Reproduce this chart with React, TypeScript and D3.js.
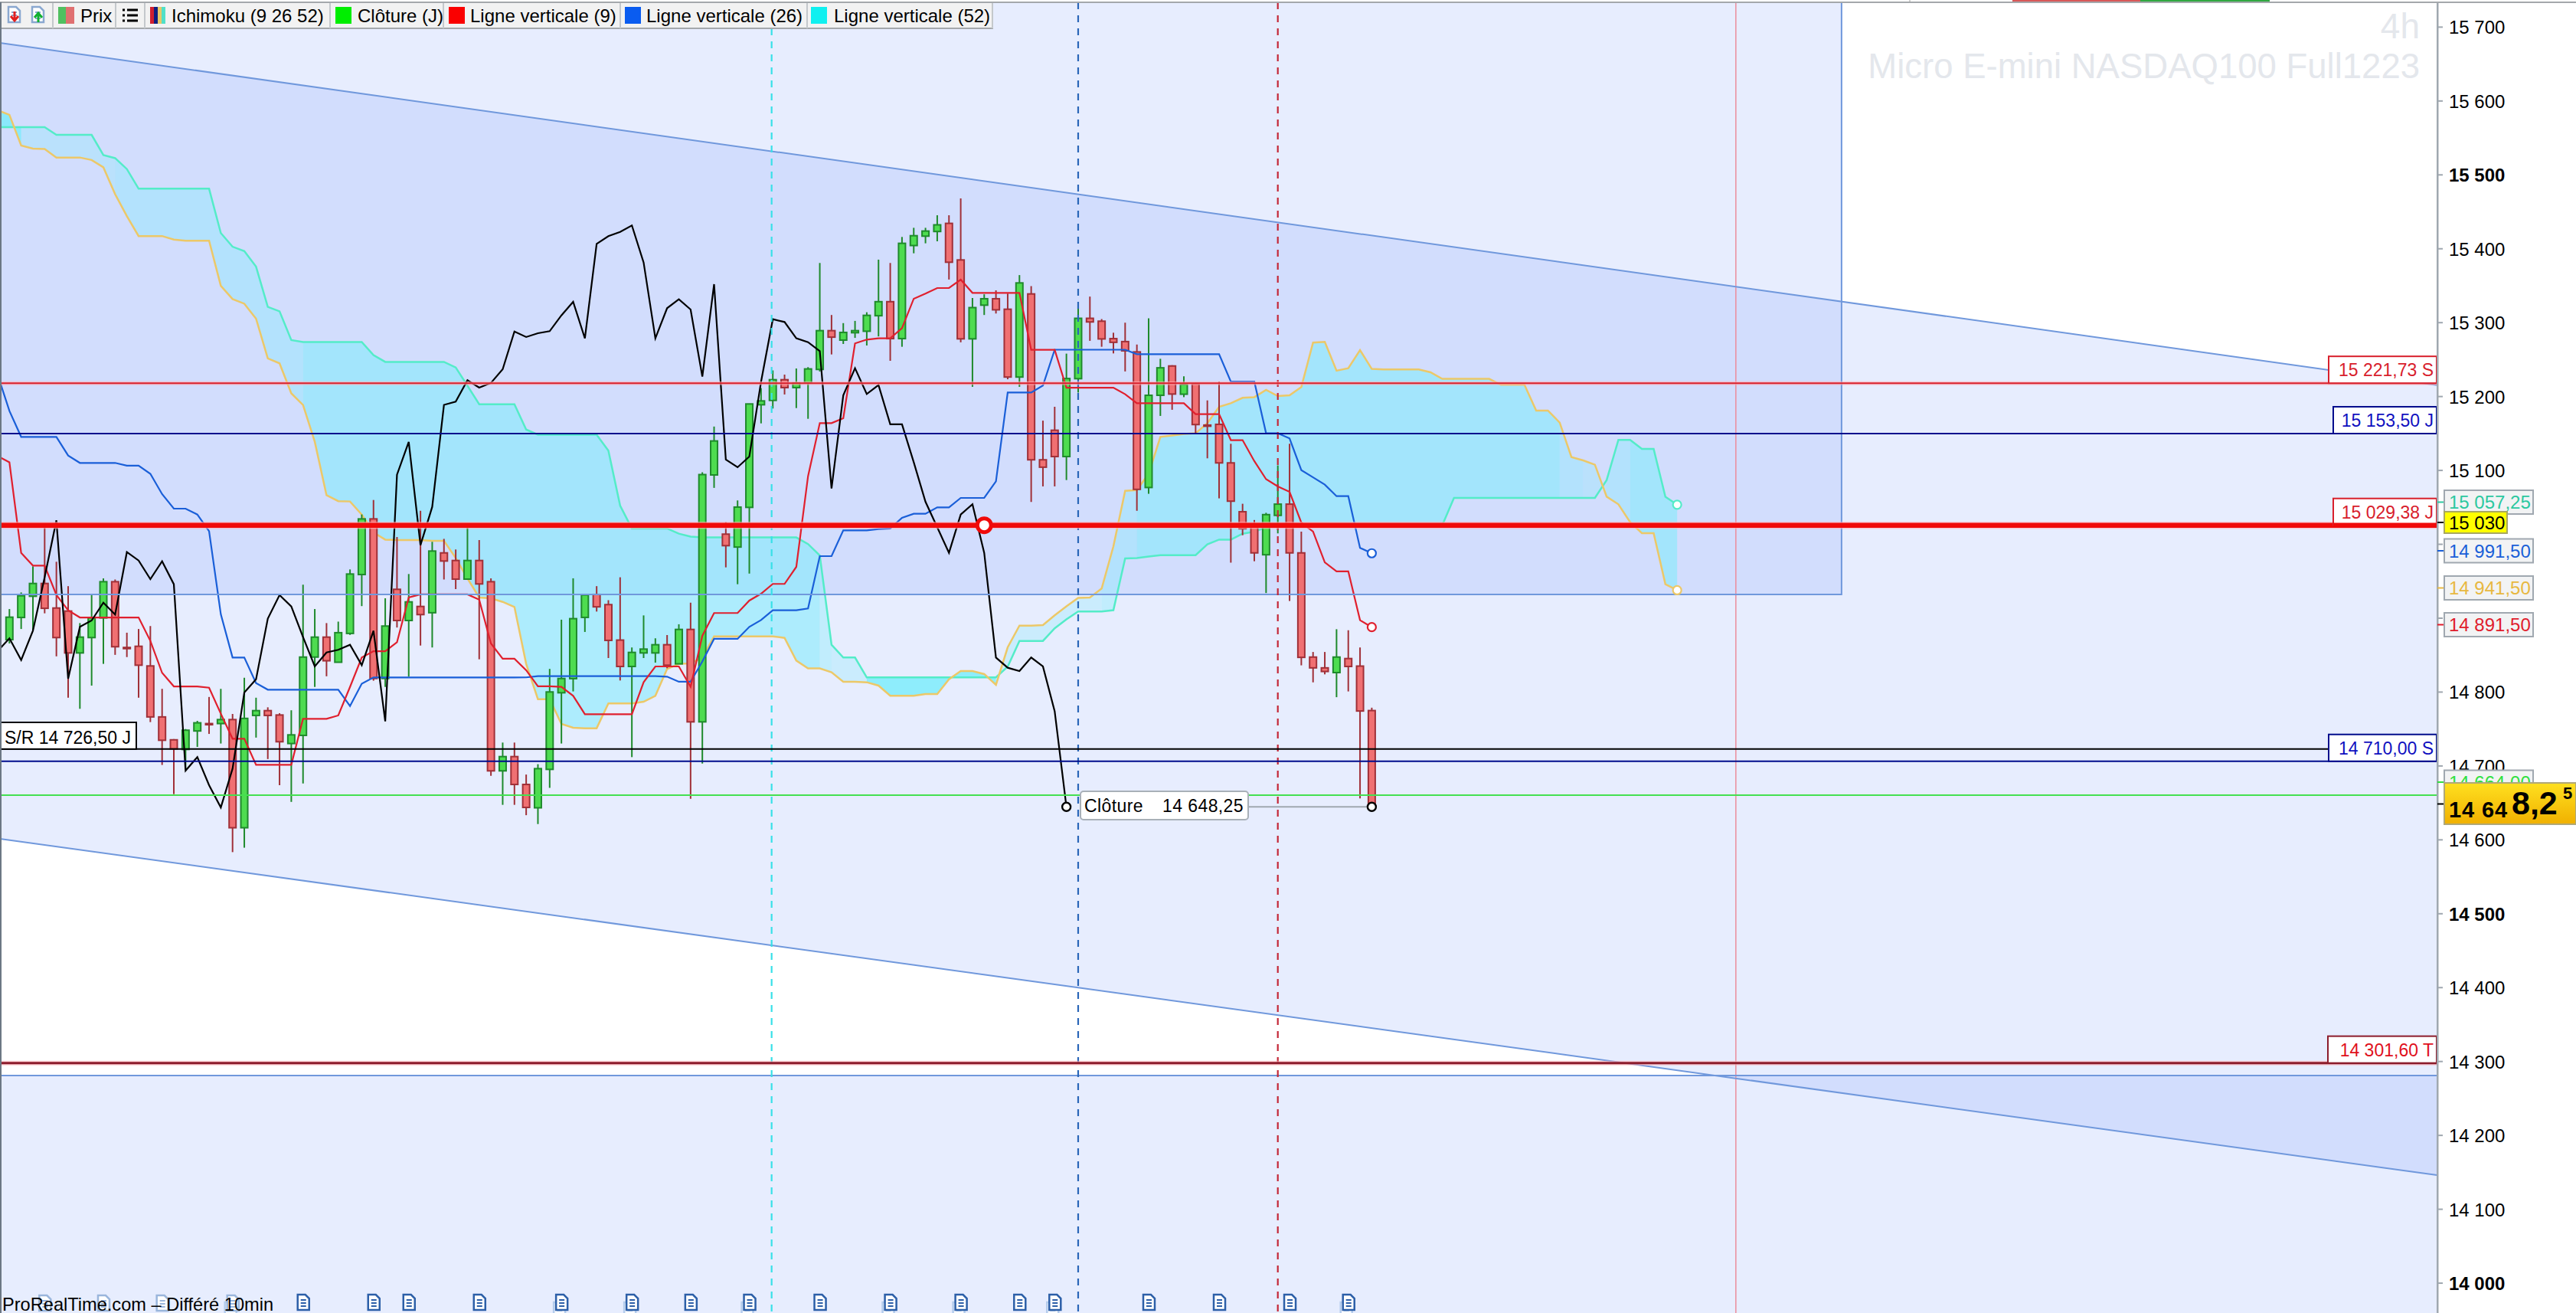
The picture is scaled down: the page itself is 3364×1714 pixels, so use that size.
import React from "react";
import * as d3 from "d3";

const WIDTH = 3364;
const HEIGHT = 1714;
const FONT = "'Liberation Sans', Arial, sans-serif";

// OHLC, one entry per 4h bar
const opens = [
  14874.6, 14904.6, 14933.3, 14950.6, 14917.4, 14913.3, 14856.6, 14877.4, 14904, 14953,
  14864, 14865.6, 14839, 14770, 14739, 14726, 14751, 14761, 14761, 14766.4,
  14620, 14772, 14778.5, 14772.6, 14734, 14745, 14851, 14878, 14844, 14883,
  14962.7, 15038, 14822, 14942.7, 14900.5, 14919.5, 14911, 14992, 14981.7, 14956.5,
  14981.7, 14953, 14697, 14716.3, 14678.6, 14647, 14699, 14802.7, 14821.8, 14904.7,
  14935.8, 14922, 14874, 14838.3, 14856.6, 14856.6, 14867.7, 14841.8, 14888.4, 14763.3,
  15097.5, 15017.4, 14999.9, 15053.6, 15192.5, 15198.4, 15226.4, 15215.7, 15222, 15240.3,
  15292.8, 15280, 15290, 15292, 15313, 15332, 15282, 15408, 15420.7, 15427,
  15438, 15388.5, 15281.7, 15327.3, 15336, 15321.8, 15230, 15342.5, 15118, 15158,
  15122.4, 15227.8, 15309.5, 15305.6, 15282, 15278, 15264, 15080.5, 15205.3, 15245,
  15206.8, 15221, 15165, 15166, 15113.8, 15047.7, 15028, 14989.5, 15042.8, 15058,
  14992, 14851, 14836.4, 14830, 14849, 14838.8, 14778.6,
];
const highs = [
  14916, 14938.5, 14973.8, 15026.6, 14980, 14947, 14897, 14935, 14957.5, 14956,
  14884, 14889, 14893, 14808, 14740, 14753.6, 14764.7, 14797, 14808, 14774,
  14823, 14796, 14783, 14775, 14779, 14949, 14916, 14897, 14899, 14969.6,
  15044, 15063.6, 14930.6, 15013.5, 14963.4, 15049, 15007, 15011, 14996.6, 15026.6,
  15009.4, 14957.5, 14735.3, 14735.3, 14692, 14706, 14835, 14901.6, 14957.6, 14936.8,
  14947, 14928, 14959, 14864, 14907.4, 14876.4, 14880.8, 14895.4, 14924.7, 15101,
  15163, 15033.6, 15063, 15194, 15215, 15239, 15233.3, 15241.6, 15243.4, 15384.4,
  15314, 15303, 15306, 15317.7, 15388.9, 15384.4, 15419.6, 15432, 15432, 15449,
  15449, 15471.8, 15337, 15342, 15347.4, 15343, 15368, 15353, 15171, 15189.8,
  15261.7, 15326.6, 15338.9, 15308.5, 15290, 15303.6, 15274, 15309.5, 15254.7, 15246,
  15231, 15222, 15198.4, 15223.9, 15139.7, 15058.5, 15036.5, 15046.3, 15110.4, 15139.7,
  15020.8, 14857.9, 14857.9, 14888.7, 14887.3, 14864, 14782.5,
];
const lows = [
  14869.4, 14889, 14886.7, 14910.2, 14852, 14796, 14781, 14812.4, 14841.8, 14854,
  14851, 14796, 14763, 14705, 14665.5, 14700, 14729.4, 14747, 14734, 14587,
  14593, 14742, 14713, 14677.6, 14655, 14680, 14810.6, 14825, 14843.5, 14881,
  14920, 14819, 14810.6, 14891, 14824.5, 14866.6, 14864, 14956, 14943, 14956.5,
  14848, 14690.4, 14651, 14651, 14637, 14625, 14674, 14734, 14804.5, 14885,
  14912.6, 14849.7, 14819.3, 14715.6, 14849.7, 14843.5, 14835.9, 14841.8, 14659.3, 14707,
  15080, 14972.4, 14949.6, 14964, 15167.3, 15187.4, 15206.4, 15188, 15173.5, 15237.5,
  15260.6, 15274.8, 15283, 15272.7, 15285, 15252, 15271, 15397.5, 15411, 15413.7,
  15362, 15277, 15216.8, 15314, 15316, 15227, 15216.8, 15061, 15082, 15082,
  15090.6, 15209, 15279, 15271, 15262, 15237.6, 15049, 15072, 15177.4, 15185.7,
  15202.8, 15154, 15120, 15065.8, 14978.8, 15015.9, 14980.7, 14937.7, 15018.4, 14926.9,
  14839.8, 14816.8, 14827.6, 14796.7, 14804.5, 14659.7, 14648.25,
];
const closes = [
  14905, 14934, 14950.6, 14917, 14877.4, 14856.6, 14878, 14904, 14953, 14865,
  14863.5, 14840, 14770, 14738.4, 14726.7, 14752, 14762, 14760, 14766.4, 14620,
  14768, 14778.5, 14772, 14736.4, 14745.7, 14851, 14878, 14846, 14884, 14963.4,
  15038, 14822, 14893, 14900.5, 14925.7, 14908.5, 14994.5, 14981, 14956.5, 14981.7,
  14950, 14697, 14716.3, 14678.6, 14647.5, 14700, 14803.8, 14822, 14903, 14935,
  14919, 14873.6, 14838.3, 14857.3, 14861.8, 14867.7, 14840, 14888.4, 14763.3, 15098,
  15143.5, 15001.8, 15054, 15193.6, 15197.7, 15226.4, 15215.7, 15222, 15241, 15292.8,
  15284, 15290.4, 15292.8, 15313.5, 15332, 15282, 15411, 15421.3, 15427.6, 15436,
  15385.4, 15281.7, 15324, 15336, 15321, 15230, 15357.4, 15118, 15108, 15122.4,
  15228, 15309.5, 15304.6, 15281.6, 15277, 15265.5, 15078, 15205.3, 15242.5, 15207,
  15220, 15165.7, 15164, 15113.8, 15062, 15024.7, 14992, 15043.8, 15058, 14992,
  14850.6, 14836.4, 14831.5, 14851, 14838.3, 14778, 14648.25,
];

// Ichimoku lines, first value sits one bar left of bar 0
const tenkan = [
  15123, 15114.6, 14992, 14974.8, 14974.8, 14935, 14914.3, 14904.6, 14904.6, 14904.6,
  14904.6, 14904.6, 14904.6, 14872.9, 14829.7, 14811.3, 14811.3, 14811.3, 14809.6, 14774.4,
  14740.5, 14740.5, 14705.2, 14705.2, 14705.2, 14705.2, 14767.5, 14767.5, 14767.5, 14772,
  14810.6, 14850.4, 14859, 14859, 14871, 14931.6, 14935.8, 14935.8, 14935.8, 14935.8,
  14935.8, 14928.8, 14869.4, 14848.7, 14848.7, 14833.2, 14811.4, 14811.4, 14810.7, 14798.6,
  14773.7, 14773.7, 14773.7, 14773.7, 14773.7, 14816.9, 14838.3, 14838.3, 14838.3, 14810.7,
  14879.8, 14910.6, 14910.6, 14910.6, 14927.5, 14936.8, 14950, 14950, 14973.1, 15095.8,
  15167.7, 15167.7, 15174.2, 15275.5, 15280.7, 15282.4, 15282.4, 15296.2, 15336, 15342.9,
  15350.5, 15350.5, 15361.9, 15343.9, 15343.9, 15343.9, 15343.9, 15343.9, 15266.9, 15266.9,
  15266.9, 15215.6, 15215.6, 15215.6, 15215.6, 15215.6, 15206.8, 15194.5, 15194.5, 15194.5,
  15194.5, 15194.5, 15179.8, 15179.8, 15179.8, 15144.6, 15144.6, 15116.2, 15091.8, 15082,
  15074.6, 15033, 15020.8, 14979.2, 14967, 14967, 14900.9, 14891.5,
];
const kijun = [
  15233, 15184.2, 15149, 15149, 15149, 15149, 15123.8, 15113.8, 15113.8, 15113.8,
  15113.8, 15110, 15110, 15099, 15071.6, 15051.9, 15051.9, 15043.9, 15021.5, 14909,
  14850.4, 14850.4, 14815.9, 14806.9, 14806.9, 14806.9, 14806.9, 14806.9, 14806.9, 14806.9,
  14784.7, 14815, 14823.4, 14823.4, 14823.4, 14823.4, 14823.4, 14823.4, 14823.4, 14823.4,
  14823.4, 14823.4, 14823.4, 14823.4, 14823.4, 14823.5, 14825.2, 14825.2, 14825.2, 14825.2,
  14825.2, 14825.2, 14825.2, 14825.2, 14825.2, 14825.2, 14825.2, 14824.5, 14817.6, 14817.6,
  14845, 14875.7, 14875.7, 14875.7, 14891.9, 14901.2, 14914.4, 14914.4, 14914.4, 14916.8,
  14987.6, 14987.6, 15022.5, 15022.5, 15022.5, 15024.3, 15025, 15039.5, 15045, 15045,
  15053.6, 15053.6, 15066.4, 15066.4, 15066.4, 15088.9, 15209, 15209, 15209, 15218.5,
  15267, 15267, 15267, 15267, 15267, 15267, 15267, 15261, 15261, 15261,
  15261, 15261, 15261, 15261, 15261, 15223.9, 15223.9, 15223.9, 15153.9, 15153.9,
  15147, 15104, 15094.2, 15084.4, 15068.8, 15068.8, 14998.8, 14991.5,
];
const chikou = [
  14859, 14876.3, 14847, 14886.7, 14959, 15036, 14821.7, 14891.9, 14900.5, 14924.7,
  14908.5, 14993.1, 14981.7, 14956.5, 14980.7, 14949.6, 14697.3, 14715.6, 14677.6, 14647.5,
  14700, 14803, 14821, 14903, 14935, 14919.5, 14878, 14838.3, 14857.3, 14860.8,
  14867.7, 14840, 14886.7, 14764, 15097.9, 15142.3, 15002.5, 15054.3, 15192.3, 15196.8,
  15225.7, 15215.7, 15222, 15240.5, 15291.6, 15284.2, 15289.3, 15292.1, 15313.5, 15331.8,
  15282.4, 15410.3, 15420.7, 15426.5, 15435.2, 15385, 15282.4, 15323.2, 15335.3, 15321.5,
  15230.6, 15355.7, 15118.3, 15107.9, 15122.4, 15223.7, 15308.3, 15304.5, 15282.4, 15277.2,
  15265.1, 15079.2, 15205.3, 15242, 15207, 15219.2, 15166, 15166, 15114.8, 15061.2,
  15026.7, 14992.1, 15044, 15057.8, 14992.1, 14850.4, 14836.6, 14832.1, 14850.4, 14838.3,
  14777.8, 14648.25,
];
const senkouA = [
  15591.1, 15584.9, 15543.4, 15539.3, 15538.6, 15527.1, 15527.1, 15527.1, 15523.8, 15513.8,
  15477.5, 15447.8, 15420.8, 15420.8, 15420.8, 15416, 15414.5, 15414.5, 15414.5, 15353.4,
  15335.6, 15329.3, 15309, 15255.3, 15248.6, 15207.9, 15192.3, 15142.4, 15070.1, 15062,
  15061.6, 15043.9, 15019.7, 15010, 15009.4, 15009.4, 15009.4, 15008.3, 15008.3, 14985.2,
  14957.5, 14931.6, 14930.6, 14925.7, 14918.8, 14841.8, 14794, 14794, 14760.6, 14755.4,
  14754.7, 14754.7, 14788.2, 14788.2, 14788.2, 14790.6, 14798.6, 14834.9, 14841.8, 14842.5,
  14850.4, 14879.1, 14879.1, 14879.1, 14879.1, 14879.1, 14879.1, 14877, 14846.3, 14835.6,
  14835.6, 14830.4, 14817.6, 14817.6, 14816.9, 14812.4, 14798.6, 14798.6, 14798.6, 14801,
  14801, 14821, 14832.1, 14832.1, 14828, 14813.5, 14864.2, 14893.6, 14893.6, 14894.3,
  14907.5, 14919.6, 14931, 14931.6, 14943.7, 15000.8, 15076.1, 15077, 15099.1, 15149,
  15151, 15152.9, 15153.9, 15167.6, 15189.6, 15194.5, 15201.9, 15202.8, 15212.6, 15204.3,
  15205.3, 15216.5, 15276.7, 15277.7, 15238.6, 15242, 15266.5, 15241, 15240.2, 15240.2,
  15240.2, 15240.2, 15236.4, 15227.5, 15227.5, 15227.5, 15227.5, 15227.5, 15219.5, 15219.5,
  15219.5, 15184.6, 15184.6, 15168.4, 15121.7, 15117.2, 15111.3, 15068.1, 15057.8, 15033.6,
  15018.7, 15018.7, 14949.6, 14941.5,
];
const senkouB = [
  15568.2, 15568.2, 15568.2, 15568.2, 15568.2, 15557.8, 15557.8, 15557.8, 15557.8, 15530.4,
  15526.3, 15511.5, 15484.9, 15484.9, 15484.9, 15484.9, 15484.9, 15484.9, 15484.9, 15424.9,
  15406.4, 15400.4, 15379.4, 15324.9, 15319, 15280.1, 15277.5, 15277.5, 15277.5, 15277.5,
  15277.5, 15277.5, 15259.7, 15250.5, 15250.5, 15250.5, 15250.5, 15250.5, 15250.5, 15243,
  15218.3, 15193.1, 15193.1, 15193.1, 15193.1, 15159, 15152, 15152, 15152, 15152,
  15152, 15152, 15130.3, 15056, 15025, 15025, 15025, 15025, 15018, 15014,
  15012.9, 15012.9, 15012.9, 15012.9, 15012.9, 15012.9, 15012.9, 15012.9, 15012.9, 15004,
  14988.6, 14867.7, 14850.4, 14850.4, 14823.5, 14823.5, 14823.5, 14823.5, 14823.5, 14823.5,
  14823.5, 14823.5, 14823.5, 14823.5, 14823.5, 14823.5, 14838, 14872.9, 14872.9, 14872.9,
  14890, 14902, 14912.6, 14912.6, 14912.6, 14914.4, 14984.5, 14985, 14987, 14989,
  14989, 14989, 14989, 15003.7, 15010, 15010, 15018, 15020.8, 15026.7, 15029.4,
  15029.4, 15029.4, 15029.4, 15029.4, 15029.4, 15029.4, 15029.4, 15029.4, 15029.4, 15029.4,
  15029.4, 15029.4, 15029.4, 15029.4, 15066.4, 15066.4, 15066.4, 15066.4, 15066.4, 15066.4,
  15066.4, 15066.4, 15066.4, 15066.4, 15066.4, 15066.4, 15066.4, 15090.6, 15145, 15145,
  15132.8, 15132.8, 15068, 15057.25,
];
// bars where the cloud is drawn brighter
const brightCloudBars = [-1, 0, 73, 74, 75, 76, 77, 78, 79, 80, 81, 82, 83];

const priceTicks = [15700, 15600, 15500, 15400, 15300, 15200, 15100, 15000, 14900, 14800, 14700, 14600, 14500, 14400, 14300, 14200, 14100, 14000];
const boldTicks = [15500, 15000, 14500, 14000];

// drawn objects: channel lines [bar, price], zones, horizontal levels
const channelUpper: [number, number][] = [[-0.8, 15682.3], [206.7, 15219]];
const channelLower: [number, number][] = [[-0.8, 14605], [206.7, 14149.8]];
const zoneTop = { lastBar: 156, bottom: 14935.7 };
const zoneBottomTop = 14284.6;

const levels = [
  { value: 15221.73, suffix: "S", color: "#d8202c", halo: "#ffb0b8", width: 2, boxX: 3041 },
  { value: 15153.5, suffix: "J", color: "#000c8c", halo: "", width: 2, boxX: 3047 },
  { value: 15029.38, suffix: "J", color: "#f00a0a", halo: "#ffb0b8", width: 6.5, boxX: 3047 },
  { value: 14710, suffix: "S", color: "#000c8c", halo: "", width: 2, boxX: 3041 },
  { value: 14301.6, suffix: "T", color: "#8c1c2c", halo: "#ffb0b8", width: 3, boxX: 3040 },
];
const srLevel = { value: 14726.5, label: "S/R 14 726,50 J" };
const closeLevel = 14664;

const verticals = [
  { bar: 64.9, color: "#38e0e8" },
  { bar: 91, color: "#2a66b8" },
  { bar: 108, color: "#c42838" },
];
const pinkBar = 147;

const sideLabels = [
  { value: 15057.25, color: "#2cc8a0", y: 655.5 },
  { value: 14991.5, color: "#1a5fd8", y: 719 },
  { value: 14941.5, color: "#e8b840", y: 767.5 },
  { value: 14891.5, color: "#e01c2c", y: 815.5 },
  { value: 14664, color: "#30e040", y: 1021 },
];

const legendItems = [
  { label: "Ichimoku (9 26 52)", x: 224, swatch: 196 },
  { label: "Clôture (J)", x: 467, swatch: 438, color: "#00ee00" },
  { label: "Ligne verticale (9)", x: 614, swatch: 586, color: "#fa0000" },
  { label: "Ligne verticale (26)", x: 844, swatch: 816, color: "#0a5cf0" },
  { label: "Ligne verticale (52)", x: 1089, swatch: 1059, color: "#10f0f0" },
];
const legendSeparators = [69, 151, 189, 431, 579, 810, 1054, 1296];

const eventBars = [3, 8, 13, 19, 25, 31, 34, 40, 47, 53, 58, 63, 69, 75, 81, 86, 89, 97, 103, 109, 114];
const doubledEvents = [19, 47, 53, 63, 75, 81, 89, 114];
const fadedEvents = [3, 8, 13, 19];

const x = d3.scaleLinear().domain([0, 116]).range([12.3, 1791.4]);
const y = d3.scaleLinear().domain([15029.38, 14648.25]).range([685.7, 1053.3]);
const PLOT_RIGHT = 3183;
const AXIS_SHIFT = -3.5;

const frPrice = (v: number, digits = 2) => {
  const [whole, dec] = v.toFixed(digits).split(".");
  return `${whole.slice(0, -3)} ${whole.slice(-3)}${dec ? "," + dec : ""}`;
};

const polyline = d3
  .line<number>()
  .x((_, k) => x(k - 1))
  .y((d) => y(d));

// cloud shade of the segment starting at index k of the senkou arrays
const cloudAlpha = (k: number) => {
  if (brightCloudBars.includes(k - 1)) return 0.8;
  const gap = (Math.abs(senkouA[k] - senkouB[k]) + Math.abs(senkouA[k + 1] - senkouB[k + 1])) / 2;
  if (gap < 50) return 0.26;
  if (gap < 100) return 0.34;
  return 0.52;
};

// contiguous segments with one shade become one path, so no seams show between bars
const cloudRuns = () => {
  const runs: { from: number; to: number; alpha: number }[] = [];
  for (let k = 0; k < senkouA.length - 1; k++) {
    const alpha = cloudAlpha(k);
    const last = runs[runs.length - 1];
    if (last && last.alpha === alpha) last.to = k + 1;
    else runs.push({ from: k, to: k + 1, alpha });
  }
  return runs;
};

const cloudArea = d3
  .area<number>()
  .x((k) => x(k - 1))
  .y0((k) => y(senkouB[k]))
  .y1((k) => y(senkouA[k]));

const DocIcon = ({ cx, top, color, op = 1 }: { cx: number; top: number; color: string; op?: number }) => (
  <g opacity={op}>
    <path
      d={`M${cx - 7},${top}h10l5,5v15h-15z`}
      fill="#fff"
      stroke={color}
      strokeWidth={2.5}
    />
    <path d={`M${cx - 3},${top + 7}h7M${cx - 3},${top + 11}h7M${cx - 3},${top + 15}h7`} stroke={color} strokeWidth={1.8} />
  </g>
);

export default function App() {
  const upperAt = channelUpper.map(([b, p]) => [x(b), y(p)]);
  const lowerAt = channelLower.map(([b, p]) => [x(b), y(p)]);
  const zoneFill = "rgba(72,122,248,0.135)";
  const zoneStroke = "#7098dc";

  const lastSsaX = x(142);

  return (
    <svg
      width={WIDTH}
      height={HEIGHT}
      viewBox={`0 0 ${WIDTH} ${HEIGHT}`}
      style={{ position: "absolute", left: 0, top: 0, display: "block", background: "#fff", fontFamily: FONT }}
    >
      <defs>
        <clipPath id="plot">
          <rect x={0} y={3} width={PLOT_RIGHT} height={HEIGHT - 3} />
        </clipPath>
        <linearGradient id="goldBox" x1="0" x2="0" y1="0" y2="1">
          <stop offset="0" stopColor="#ffe020" />
          <stop offset="1" stopColor="#f0b000" />
        </linearGradient>
      </defs>

      <g clipPath="url(#plot)">
        {/* zones */}
        <rect x={0} y={3} width={x(zoneTop.lastBar)} height={y(zoneTop.bottom) - 3} fill={zoneFill} />
        <path
          d={`M${upperAt[0]}L${upperAt[1]}L${lowerAt[1]}L${lowerAt[0]}Z`}
          fill={zoneFill}
        />
        <rect x={0} y={y(zoneBottomTop)} width={PLOT_RIGHT} height={HEIGHT - y(zoneBottomTop)} fill={zoneFill} />

        <line x1={x(pinkBar)} x2={x(pinkBar)} y1={3} y2={HEIGHT} stroke="#ec8c9c" strokeWidth={1.5} />

        {/* kumo */}
        {cloudRuns().map((r) => (
          <path
            key={r.from}
            d={cloudArea(d3.range(r.from, r.to + 1)) ?? ""}
            fill="#78ecfb"
            fillOpacity={r.alpha}
            stroke="none"
          />
        ))}
        <path d={polyline(senkouB) ?? ""} fill="none" stroke="#54ecc8" strokeWidth={2.5} />
        <path d={polyline(senkouA) ?? ""} fill="none" stroke="#ecc868" strokeWidth={2.5} />

        {/* candles */}
        {opens.map((o, i) => {
          const c = closes[i];
          const up = c >= o;
          const stroke = up ? "#1f8a2c" : "#a03038";
          const fill = up ? "#4edc50" : "#f07072";
          const top = y(Math.max(o, c));
          const bot = y(Math.min(o, c));
          return (
            <g key={i}>
              <line x1={x(i)} x2={x(i)} y1={y(highs[i])} y2={y(lows[i])} stroke={stroke} strokeWidth={2} />
              <rect x={x(i) - 4.5} y={top} width={9} height={Math.max(bot - top, 1.5)} fill={fill} stroke={stroke} strokeWidth={2} />
            </g>
          );
        })}

        {/* ichimoku lines */}
        <path d={polyline(kijun) ?? ""} fill="none" stroke="#1a5fd8" strokeWidth={2.2} />
        <path d={polyline(tenkan) ?? ""} fill="none" stroke="#e0202e" strokeWidth={2.2} />
        <path d={polyline(chikou) ?? ""} fill="none" stroke="#000" strokeWidth={2.2} />

        {/* zone outlines */}
        <path d={`M${upperAt[0]}L${upperAt[1]}`} stroke={zoneStroke} strokeWidth={2} fill="none" />
        <path d={`M${lowerAt[0]}L${lowerAt[1]}`} stroke={zoneStroke} strokeWidth={2} fill="none" />
        <path
          d={`M0,${y(zoneTop.bottom)}H${x(zoneTop.lastBar)}V3`}
          stroke={zoneStroke}
          strokeWidth={2}
          fill="none"
        />
        <line x1={0} x2={PLOT_RIGHT} y1={y(zoneBottomTop)} y2={y(zoneBottomTop)} stroke={zoneStroke} strokeWidth={2} />

        {/* verticals */}
        {verticals.map((v) => (
          <line key={v.bar} x1={x(v.bar)} x2={x(v.bar)} y1={3} y2={HEIGHT} stroke={v.color} strokeWidth={2.2} strokeDasharray="9 8" />
        ))}

        {/* horizontals */}
        {levels.map((l) => (
          <g key={l.value}>
            {l.halo && <line x1={0} x2={PLOT_RIGHT} y1={y(l.value)} y2={y(l.value)} stroke={l.halo} strokeOpacity={0.6} strokeWidth={l.width + 3} />}
            <line x1={0} x2={PLOT_RIGHT} y1={y(l.value)} y2={y(l.value)} stroke={l.color} strokeWidth={l.width} />
          </g>
        ))}
        <line x1={0} x2={3041} y1={y(srLevel.value)} y2={y(srLevel.value)} stroke="#000" strokeWidth={2} />
        <line x1={0} x2={PLOT_RIGHT} y1={y(closeLevel)} y2={y(closeLevel)} stroke="#44e050" strokeWidth={2} />

        {/* end markers */}
        <circle cx={x(83)} cy={y(15029.38)} r={9} fill="#fff" stroke="#f00a0a" strokeWidth={5} />
        <circle cx={x(116)} cy={y(kijun[kijun.length - 1])} r={5.5} fill="#fff" stroke="#1a5fd8" strokeWidth={2.2} />
        <circle cx={x(116)} cy={y(tenkan[tenkan.length - 1])} r={5.5} fill="#fff" stroke="#e0202e" strokeWidth={2.2} />
        <circle cx={lastSsaX} cy={y(senkouB[senkouB.length - 1])} r={5.5} fill="#fff" stroke="#54ecc8" strokeWidth={2.2} />
        <circle cx={lastSsaX} cy={y(senkouA[senkouA.length - 1])} r={5.5} fill="#fff" stroke="#ecc868" strokeWidth={2.2} />
        <line x1={1630} x2={x(116)} y1={y(14648.25)} y2={y(14648.25)} stroke="#a0a8b0" strokeWidth={2} />
        <circle cx={x(90)} cy={y(14648.25)} r={5.5} fill="#fff" stroke="#000" strokeWidth={2.4} />
        <circle cx={x(116)} cy={y(14648.25)} r={5.5} fill="#fff" stroke="#000" strokeWidth={2.4} />

        {/* event icons */}
        {eventBars.map((b) => (
          <g key={b}>
            {doubledEvents.includes(b) && <DocIcon cx={x(b) - 3} top={1700} color="#a8c4e8" op={0.8} />}
            <DocIcon cx={x(b)} top={fadedEvents.includes(b) ? 1691 : 1690} color={fadedEvents.includes(b) ? "#9ab6dc" : "#2c5fa8"} />
          </g>
        ))}
      </g>

      {/* tooltip */}
      <rect x={1411} y={1033} width={219} height={37} rx={4} fill="#fff" stroke="#a8b0b8" strokeWidth={2} />
      <text x={1416} y={1060} fontSize={23} fill="#000" letterSpacing={0.4}>Clôture</text>
      <text x={1624} y={1060} fontSize={23} fill="#000" textAnchor="end" letterSpacing={0.4}>{frPrice(closes[closes.length - 1])}</text>

      {/* S/R label on the left */}
      <rect x={1} y={943} width={177} height={y(srLevel.value) - 943} fill="#fff" stroke="#000" strokeWidth={2} />
      <text x={6} y={971} fontSize={23} fill="#000">{srLevel.label}</text>

      {/* boxes of the horizontals */}
      {levels.map((l) => (
        <g key={l.value}>
          <rect x={l.boxX} y={y(l.value) - 35} width={PLOT_RIGHT - 1 - l.boxX} height={35} fill="#fff" stroke={l.color === "#f00a0a" ? "#d8202c" : l.color} strokeWidth={2} />
          <text x={PLOT_RIGHT - 5} y={y(l.value) - 9} fontSize={23} textAnchor="end" fill={l.color === "#8c1c2c" ? "#e0101c" : l.color === "#000c8c" ? "#1010c0" : "#d8202c"}>
            {`${frPrice(l.value)} ${l.suffix}`}
          </text>
        </g>
      ))}
      <line x1={3047} x2={PLOT_RIGHT} y1={y(15029.38)} y2={y(15029.38)} stroke="#f00a0a" strokeWidth={6.5} />

      {/* watermark */}
      <text x={3160} y={50} fontSize={46} textAnchor="end" fill="#e4e7ec">4h</text>
      <text x={3160} y={102} fontSize={45.5} textAnchor="end" fill="#e4e7ec">Micro E-mini NASDAQ100 Full1223</text>

      {/* price axis */}
      <rect x={PLOT_RIGHT - 1} y={3} width={2.5} height={HEIGHT} fill="#a0a8b0" />
      {priceTicks.map((t) => (
        <g key={t} transform={`translate(0,${y(t) + AXIS_SHIFT})`}>
          <line x1={PLOT_RIGHT} x2={3190} stroke="#a0a8b0" strokeWidth={2} />
          <text x={3198} y={9} fontSize={24} fontWeight={boldTicks.includes(t) ? 700 : 400} fill="#000">
            {frPrice(t, 0)}
          </text>
        </g>
      ))}

      {/* labels on the axis */}
      {sideLabels.map((s) => (
        <g key={s.value}>
          <line x1={PLOT_RIGHT} x2={3192} y1={s.y} y2={s.y} stroke={s.color} strokeWidth={2} />
          <rect x={3192} y={s.y - 15.5} width={116} height={31} fill="#f2f3f4" stroke="#a0a8b0" strokeWidth={2} />
          <text x={3198} y={s.y + 8.5} fontSize={24} fill={s.color}>{frPrice(s.value)}</text>
        </g>
      ))}
      <line x1={PLOT_RIGHT} x2={3192} y1={682} y2={682} stroke="#000" strokeWidth={2} />
      <rect x={3192} y={668} width={82} height={28} fill="#ffff00" stroke="#a8a860" strokeWidth={2} />
      <text x={3198} y={690.5} fontSize={24} fill="#000">{frPrice(15030, 0)}</text>

      <line x1={PLOT_RIGHT} x2={3192} y1={1049.5} y2={1049.5} stroke="#000" strokeWidth={2} />
      <rect x={3192} y={1022} width={172} height={54} fill="url(#goldBox)" stroke="#b0a878" strokeWidth={2} />
      <text x={3198} y={1067} fontSize={29} fontWeight={700} fill="#000" letterSpacing={0.9}>14 64</text>
      <text x={3280} y={1063} fontSize={43} fontWeight={700} fill="#000">8,2</text>
      <text x={3347} y={1043} fontSize={22} fontWeight={700} fill="#000">5</text>

      {/* top frame and toolbar */}
      <rect x={0} y={2} width={WIDTH} height={2} fill="#a4a8ac" />
      <rect x={2628} y={0} width={167} height={2} fill="#d85858" />
      <rect x={2795} y={0} width={169} height={2} fill="#30a840" />
      <line x1={2494} x2={2494} y1={0} y2={3} stroke="#a0a0a0" />
      <rect x={0} y={3} width={1296} height={34} fill="#f2f2f2" stroke="#a4a8ac" strokeWidth={2} />
      {legendSeparators.map((s) => (
        <line key={s} x1={s} x2={s} y1={4} y2={37} stroke="#c4c8cc" strokeWidth={2} />
      ))}
      <DocIcon cx={18} top={9} color="#8aa8d0" />
      <path d="M19,15v10M14,21l5,6l5,-6" stroke="#e02020" strokeWidth={3} fill="none" />
      <DocIcon cx={49} top={9} color="#8aa8d0" />
      <path d="M50,29v-10M45,23l5,-6l5,6" stroke="#10b030" strokeWidth={3} fill="none" />
      <rect x={76} y={9} width={10} height={22} fill="#50c060" />
      <rect x={86} y={9} width={11} height={22} fill="#e07070" />
      <text x={105} y={29} fontSize={24} fill="#000">Prix</text>
      <path d="M160,13h3M166,13h14M160,20h3M166,20h14M160,27h3M166,27h14" stroke="#000" strokeWidth={3} />
      {legendItems.map((l) => (
        <g key={l.label}>
          {l.color ? (
            <rect x={l.swatch} y={9} width={21} height={22} fill={l.color} />
          ) : (
            <g>
              <rect x={l.swatch} y={9} width={5} height={22} fill="#d02030" />
              <rect x={l.swatch + 5} y={9} width={5} height={22} fill="#102080" />
              <rect x={l.swatch + 10} y={9} width={5} height={22} fill="#e8c868" />
              <rect x={l.swatch + 15} y={9} width={5} height={22} fill="#50e0c8" />
            </g>
          )}
          <text x={l.x} y={29} fontSize={24} fill="#000">{l.label}</text>
        </g>
      ))}

      <rect x={0} y={3} width={2} height={HEIGHT} fill="#6c7884" />
      <text x={3} y={1711} fontSize={23.6} fill="#000">ProRealTime.com – Différé 10min</text>
    </svg>
  );
}
